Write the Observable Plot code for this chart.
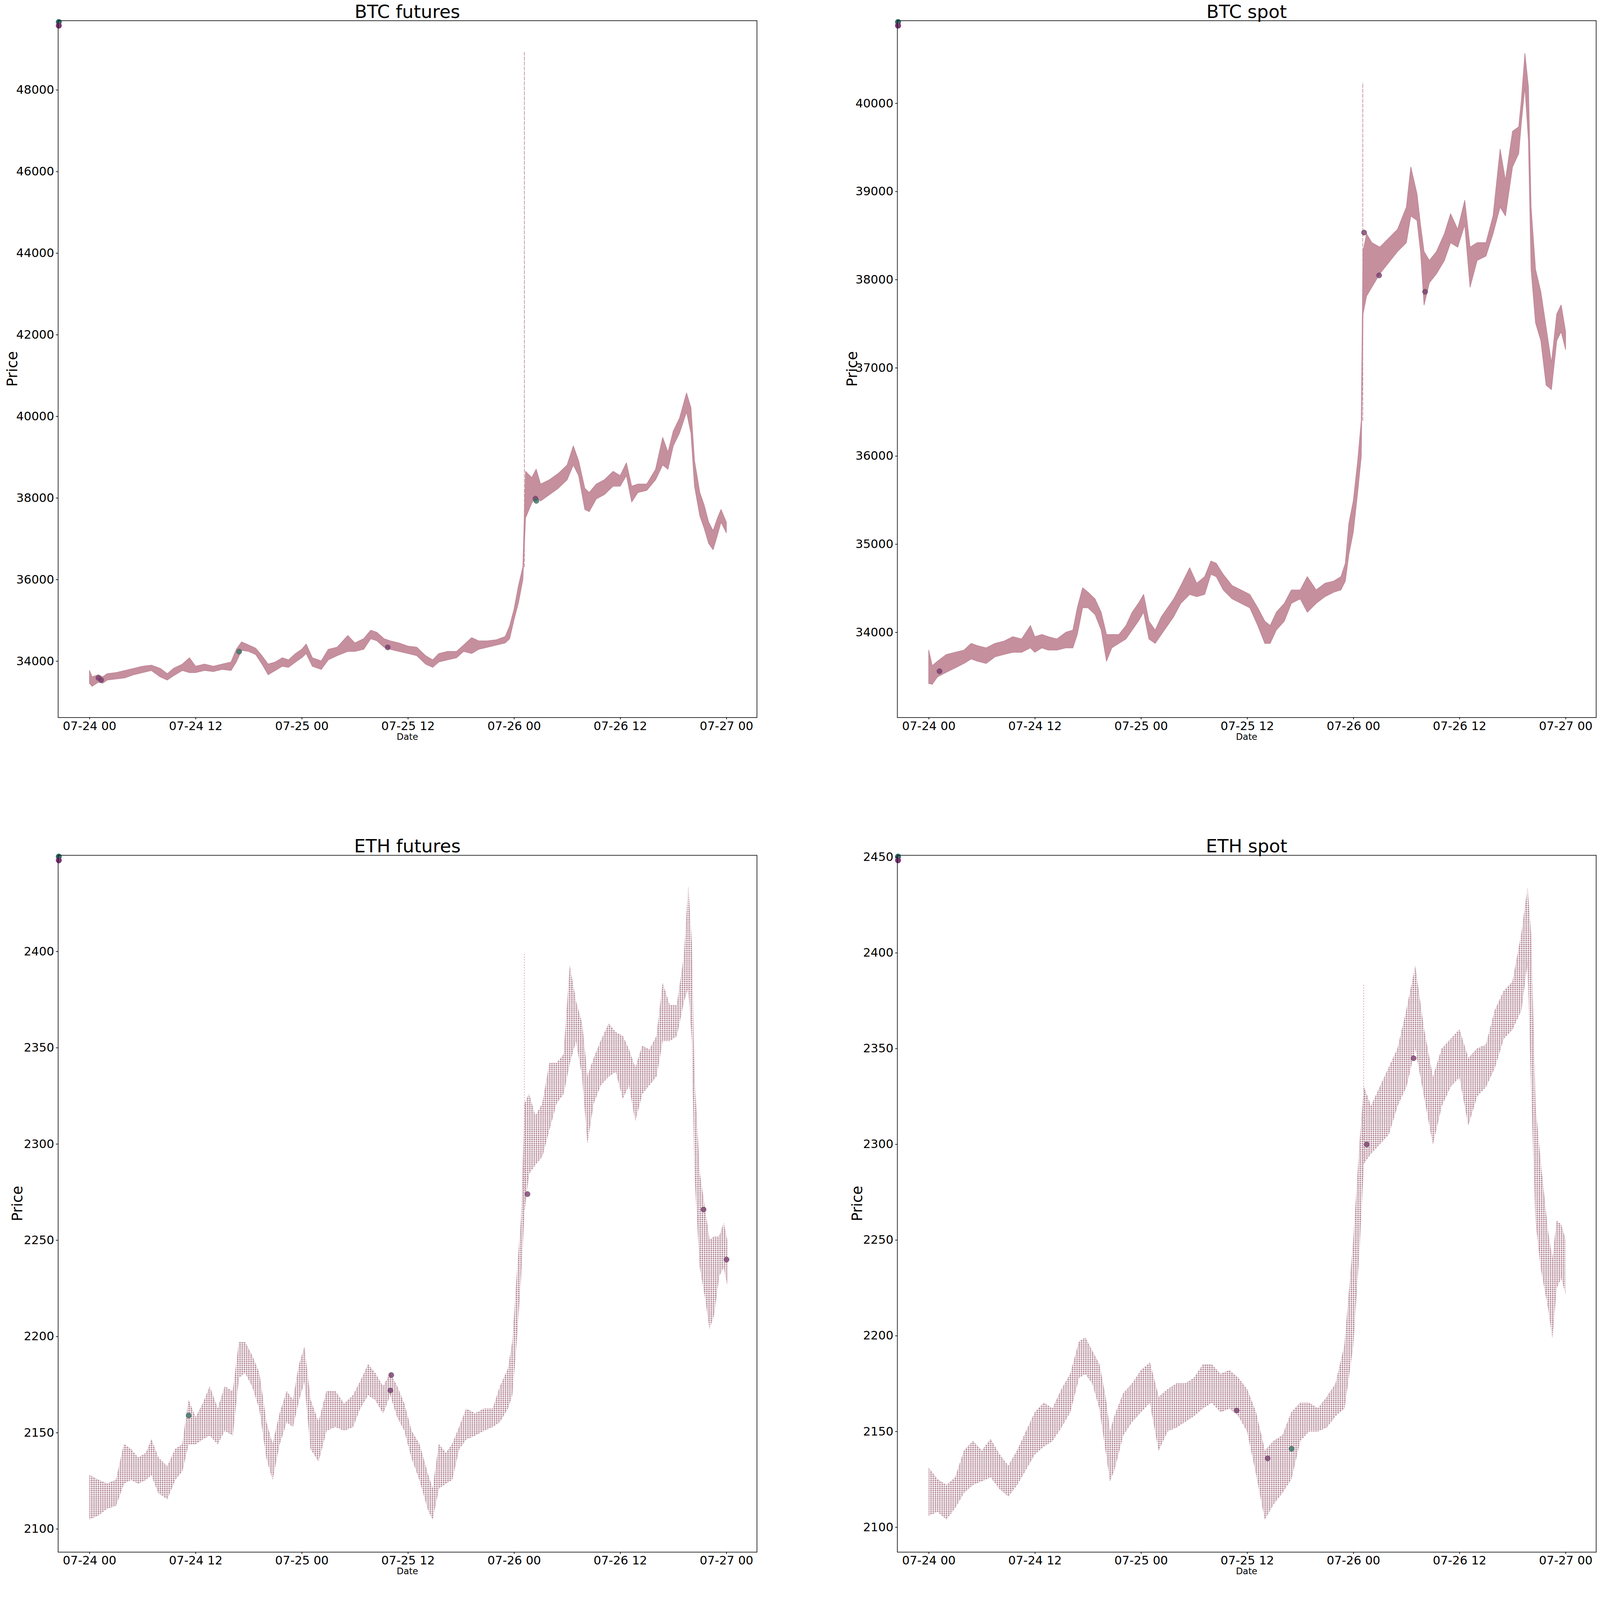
<!DOCTYPE html>
<html><head><meta charset="utf-8">
<script src="https://cdn.jsdelivr.net/npm/d3@7"></script>
<script src="https://cdn.jsdelivr.net/npm/@observablehq/plot@0.6"></script>
<style>
html,body{margin:0;padding:0;background:#fff;overflow:hidden;}
#page{position:absolute;left:0;top:0;width:4831px;height:4770px;background:#fff;overflow:hidden;font-family:"DejaVu Sans",sans-serif;color:#000;transform-origin:0 0;}
.panel{position:absolute;}
.title{position:absolute;font-size:55px;line-height:55px;white-space:nowrap;transform:translateX(-50%);}
.ylab{position:absolute;font-size:44px;line-height:44px;white-space:nowrap;transform:translate(-50%,-50%) rotate(-90deg);}
.xlab{position:absolute;font-size:27px;line-height:27px;white-space:nowrap;transform:translate(-50%,-50%);}
</style></head>
<body><div id="page"></div>
<script>
// ---------- data (hours after 2021-07-24 00:00, price low / high of the trade cloud) ----------
const BASE = Date.UTC(2021, 6, 24, 0, 0);
const titles = ["BTC futures", "BTC spot", "ETH futures", "ETH spot"];

const btcFutT  = [0,0.3,1,1.5,2,3,4,5,6,7,8,8.8,9.5,10.5,11.3,12,13,14,15,16,16.6,17.2,18,18.8,19.5,20.2,21,21.8,22.5,23.3,24,24.5,25.2,26.2,27,28,29.2,30,31,31.8,32.5,33.3,34,35,36,37,38,38.8,39.5,40.5,41.5,42.3,43.2,44,45,46,47,47.5,48,48.5,49,49.3,50,50.5,51,52,53,54,54.7,55.3,56,56.5,57.3,58.2,59.2,60,60.7,61.3,62,63,64,64.8,65.4,66,66.7,67.5,68,68.4,69,69.5,70,70.5,71,71.4,72];
const btcFutHi = [33769,33613,33665,33613,33691,33717,33769,33821,33873,33899,33821,33691,33821,33925,34081,33873,33925,33873,33925,33977,34288,34470,34392,34314,34133,33925,33977,34081,34029,34185,34288,34418,34081,34003,34288,34340,34626,34444,34548,34756,34704,34548,34496,34444,34366,34340,34133,34029,34185,34236,34236,34392,34574,34496,34496,34522,34600,34860,35275,35846,36314,38650,38495,38702,38339,38443,38599,38806,39274,38910,38235,38131,38339,38443,38650,38547,38858,38287,38339,38339,38702,39481,39118,39637,39949,40572,40208,38910,38131,37820,37404,37196,37508,37716,37404];
const btcFutLo = [33457,33380,33483,33457,33535,33561,33587,33665,33717,33769,33613,33535,33639,33769,33717,33717,33769,33743,33795,33769,33977,34262,34236,34159,33925,33665,33769,33873,33847,33977,34081,34185,33873,33795,34029,34133,34236,34236,34288,34548,34496,34340,34288,34236,34185,34133,33925,33847,33977,34029,34081,34236,34185,34288,34340,34392,34444,34548,35015,35431,36002,37508,37872,38027,37923,38079,38235,38443,38806,38547,37716,37664,37975,38079,38287,38287,38547,37898,38131,38183,38443,38806,38702,39274,39585,40105,39585,38287,37560,37248,36885,36729,37093,37404,37145];

const btcSpotT  = [0,0.4,1,2,3,4,4.8,5.5,6.5,7.5,8.5,9.5,10.5,11.5,12,12.8,13.5,14.5,15.5,16.3,16.8,17.4,18,18.8,19.5,20.1,20.7,21.5,22.3,23,23.7,24.3,24.9,25.6,26.3,27,27.7,28.5,29.5,30.3,31.2,31.9,32.5,33.3,34.3,35.3,36.3,37.2,38,38.6,39.3,40.2,41,42,42.8,43.8,44.8,45.8,46.6,47.1,47.5,48,48.5,48.9,49.1,49.5,50.1,51,52,53,54,54.5,55.2,55.6,56,56.6,57.4,58.3,59,59.8,60.6,61.2,62,63,63.8,64.6,65.2,66,66.7,67,67.4,67.8,68.1,68.6,69.2,69.8,70.4,71,71.5,72];
const btcSpotHi = [33798,33621,33672,33748,33773,33798,33874,33849,33823,33874,33899,33950,33924,34076,33950,33975,33950,33924,34000,34025,34278,34505,34455,34379,34227,33975,33975,33975,34076,34227,34328,34429,34126,34025,34177,34278,34379,34530,34732,34556,34631,34808,34783,34657,34530,34480,34429,34278,34126,34076,34227,34328,34480,34480,34631,34480,34556,34581,34631,34783,35237,35490,35944,36399,38318,38520,38419,38368,38469,38570,38823,39277,38974,38621,38318,38217,38318,38520,38747,38570,38899,38368,38419,38419,38722,39479,39126,39681,39732,40035,40565,40186,38823,38116,37863,37459,37055,37611,37712,37409];
const btcSpotLo = [33419,33409,33495,33546,33596,33647,33697,33672,33647,33722,33748,33773,33773,33823,33773,33823,33798,33798,33823,33823,33975,34278,34278,34202,34025,33672,33823,33874,33924,34025,34126,34227,33924,33874,33975,34076,34177,34328,34429,34404,34429,34657,34631,34480,34379,34328,34278,34076,33874,33874,34025,34126,34328,34379,34227,34328,34404,34455,34480,34581,34884,35136,35591,35995,37611,37813,37914,38065,38192,38318,38419,38722,38671,38318,37712,37964,38065,38217,38419,38368,38621,37914,38217,38267,38520,38823,38722,39277,39429,39782,40186,39580,38116,37510,37308,36803,36752,37308,37409,37207];

const ethFutT  = [0,1,2,3,3.9,4.7,5.5,6.4,7,7.8,8.8,9.7,10.5,11.2,12,12.8,13.6,14.5,15.3,16.2,16.9,17.6,18.4,19.2,20,20.7,21.5,22.3,23,23.7,24.3,25,25.9,26.8,27.8,28.8,29.8,30.6,31.5,32.3,33.2,34,34.8,35.6,36.4,37.3,38.3,38.8,39.5,40.3,41,41.8,42.6,43.6,44.6,45.6,46.4,47.3,47.8,48.3,48.8,49.2,49.7,50.4,51.2,52,52.8,53.6,54.3,55,55.7,56.3,57,57.8,58.7,59.5,60.3,61,61.7,62.5,63.3,64.1,64.8,65.6,66.4,67.2,67.7,68.1,68.4,69,69.6,70.1,70.6,71.2,71.7,72.1];
const ethFutHi = [2128,2125.5,2123.5,2125.5,2144,2141.5,2137,2139.5,2146.5,2137,2132.5,2141.5,2144,2167,2158,2165,2174,2162.5,2174,2171.5,2197,2197,2190,2181,2155.5,2144,2160,2171.5,2167,2185.5,2194.5,2167,2155.5,2171.5,2171.5,2165,2169.5,2176.5,2185.5,2181,2174,2181,2174,2165,2151,2144,2128,2121,2144,2139.5,2144,2153,2162.5,2160,2162.5,2162.5,2174,2183,2197,2231.5,2261.5,2321,2326,2314.5,2321,2342,2342,2346.5,2392.5,2374,2362.5,2335,2344.5,2353.5,2362.5,2358,2356,2349,2339.5,2351,2349,2356,2383.5,2372,2372,2397.5,2433.5,2404,2335,2284.5,2266,2250,2252,2252,2259,2250];
const ethFutLo = [2105,2107,2110.5,2112,2123.5,2125.5,2123.5,2125.5,2128,2118.5,2115.5,2125.5,2130,2144,2144,2146.5,2148.5,2144,2151,2148.5,2178.5,2181,2174,2162.5,2137,2125.5,2144,2155.5,2153,2167,2176.5,2141.5,2135,2151,2153,2151,2153,2162.5,2169.5,2167,2160,2169.5,2158,2151,2137,2125.5,2109.5,2105,2121,2123.5,2125.5,2141.5,2146.5,2148.5,2151,2153,2155.5,2162.5,2169.5,2197,2231.5,2266,2284.5,2289,2293.5,2307.5,2321,2326,2342,2353.5,2335,2300.5,2321,2330.5,2335,2337.5,2323.5,2330.5,2312,2326,2330.5,2335,2353.5,2353.5,2356,2374,2381,2353.5,2284.5,2236,2220,2204,2211,2231.5,2236,2227];

const ethSpotT  = [0,1,2,3,4,5,6,7,8,9,10,11,12,13,14,15,16,17,17.7,18.5,19.3,20,20.5,21,22,23,24,25,26,27,28,29,30,31,32,33,34,35,36,37,38,39,40,41,42,43,44,45,46,47,48,48.7,49.2,50,51,52,53,54,55,56,57,58,59,60,61,62,63,64,65,66,67,67.7,68.1,68.6,69.2,70,70.5,71,71.5,72];
const ethSpotHi = [2131,2125,2122,2126,2140,2145,2140,2146,2138,2132,2140,2150,2160,2165,2162,2172,2180,2197,2199,2192,2185,2168,2150,2158,2170,2175,2182,2186,2168,2172,2175,2175,2178,2185,2185,2180,2182,2178,2172,2160,2140,2145,2148,2160,2165,2165,2162,2168,2175,2195,2250,2300,2330,2320,2330,2340,2350,2370,2393,2360,2335,2350,2355,2360,2345,2350,2352,2370,2380,2385,2410,2434,2410,2320,2290,2255,2240,2260,2258,2250];
const ethSpotLo = [2106,2108,2104,2110,2118,2122,2124,2126,2120,2116,2122,2130,2138,2142,2145,2152,2160,2178,2180,2175,2162,2140,2124,2130,2148,2155,2160,2165,2140,2150,2152,2155,2158,2162,2165,2160,2162,2158,2150,2128,2104,2112,2118,2125,2145,2150,2150,2152,2158,2162,2195,2245,2290,2295,2300,2305,2320,2330,2350,2325,2300,2320,2330,2335,2310,2325,2330,2340,2355,2360,2370,2395,2330,2260,2235,2215,2199,2225,2230,2222];

// isolated vertical bursts of trades (hour, low, high)
const spikesT  = [[49.15], [49.05], [49.15], [49.15]];
const spikesLo = [[36300], [36400], [2266], [2290]];
const spikesHi = [[48930], [40237], [2399.5], [2384]];

// larger single trades (hour, price, side)
const bigT     = [[1, 1.3, 16.9, 33.7, 50.4, 50.5], [49.2, 50.9, 56.1, 1.2], [11.2, 34, 34.1, 49.5, 69.4, 72], [54.8, 34.8, 38.3, 41, 49.5]];
const bigPrice = [[33590, 33540, 34236, 34340, 37986, 37930], [38535, 38050, 37864, 33560], [2159, 2172, 2180, 2274, 2266, 2240], [2345, 2161, 2136, 2141, 2300]];
const bigSide  = [["sell","sell","buy","sell","sell","buy"], ["sell","sell","sell","sell"], ["buy","sell","sell","sell","sell","sell"], ["sell","sell","sell","buy","sell"]];

// axis limits and ticks
const yDomains = [[32620, 49700], [33035, 40938], [2088, 2450], [2087, 2451]];
const yTicks = [
  [34000, 36000, 38000, 40000, 42000, 44000, 46000, 48000],
  [34000, 35000, 36000, 37000, 38000, 39000, 40000],
  [2100, 2150, 2200, 2250, 2300, 2350, 2400],
  [2100, 2150, 2200, 2250, 2300, 2350, 2400, 2450]
];
const xDomainHours = [-3.56, 75.44];

// ---------- layout ----------
const FW = 2110, FH = 2104;
const frames = [[175, 62], [2709, 62], [175, 2582], [2709, 2582]];
const yLabelX = [37, 2573, 52, 2588];
const series = [
  [btcFutT, btcFutLo, btcFutHi],
  [btcSpotT, btcSpotLo, btcSpotHi],
  [ethFutT, ethFutLo, ethFutHi],
  [ethSpotT, ethSpotLo, ethSpotHi]
];
const at = h => new Date(BASE + h * 3600000);
const page = document.getElementById("page");
const ML = 175, MT = 62, MR = 12, MB = 60;
const sideColor = {buy: "#2f7566", sell: "#7c3a6f"};

function fit() {
  const s = Math.min(window.innerWidth / 4831, window.innerHeight / 4770);
  page.style.transform = `scale(${s})`;
}
fit();
window.addEventListener("resize", fit);

series.forEach(([T, LO, HI], k) => {
  const rows = T.map((t, i) => ({date: at(t), lo: LO[i], hi: HI[i]}));
  const spikes = spikesT[k].map((t, i) => ({date: at(t), lo: spikesLo[k][i], hi: spikesHi[k][i]}));
  const big = bigT[k].map((t, i) => ({date: at(t), price: bigPrice[k][i], side: bigSide[k][i]}));
  const xDom = [at(xDomainHours[0]), at(xDomainHours[1])];
  const yDom = yDomains[k];
  const isEth = k >= 2;
  const pid = "dots" + k;
  const corner = [{date: xDom[0], price: yDom[1]}];
  const svg = Plot.plot({
    width: FW + ML + MR, height: FH + MT + MB,
    marginLeft: ML, marginTop: MT, marginRight: MR, marginBottom: MB,
    style: {fontFamily: "DejaVu Sans", fontSize: "36px", color: "#000", background: "transparent", maxWidth: "none"},
    x: {type: "utc", domain: xDom},
    y: {domain: yDom},
    marks: [
      Plot.areaY(rows, {x: "date", y1: "lo", y2: "hi", curve: "linear",
        fill: isEth ? `url(#${pid})` : "#c58f9e",
        stroke: isEth ? "#d7aab8" : "#c08898", strokeWidth: isEth ? 0.8 : 2, strokeOpacity: isEth ? 0.6 : 1}),
      Plot.ruleX(spikes, {x: "date", y1: "lo", y2: "hi", stroke: "#c08898", strokeWidth: 2,
        strokeDasharray: isEth ? "3,5" : "12,3"}),
      Plot.dot(big, {x: "date", y: "price", r: 8, fill: d => sideColor[d.side], fillOpacity: 0.8, stroke: "#555", strokeWidth: 1}),
      Plot.dot(corner, {x: "date", y: "price", r: 9, fill: "#2e6f69", dx: 2, dy: 4}),
      Plot.dot(corner, {x: "date", y: "price", r: 9, fill: "#7b3673", dx: 2, dy: 15}),
      Plot.frame({stroke: "#111", strokeWidth: 2}),
      Plot.axisX({ticks: d3.utcHour.every(12), tickFormat: d3.utcFormat("%m-%d %H"), tickSize: 6, tickPadding: 6, strokeWidth: 2, label: null}),
      Plot.axisY({ticks: yTicks[k], tickFormat: d => String(d), tickSize: 6, tickPadding: 6, strokeWidth: 2, label: null})
    ]
  });
  // dotted texture for the ETH trade clouds
  const NS = "http://www.w3.org/2000/svg";
  const defs = document.createElementNS(NS, "defs");
  const pat = document.createElementNS(NS, "pattern");
  pat.setAttribute("id", pid); pat.setAttribute("patternUnits", "userSpaceOnUse");
  pat.setAttribute("width", "6.68"); pat.setAttribute("height", "6.2");
  const c = document.createElementNS(NS, "circle");
  c.setAttribute("cx", "3.3"); c.setAttribute("cy", "3.1"); c.setAttribute("r", "2.2");
  c.setAttribute("fill", "#b87a8e"); c.setAttribute("stroke", "#9a8a90"); c.setAttribute("stroke-width", "0.5");
  pat.appendChild(c); defs.appendChild(pat); svg.insertBefore(defs, svg.firstChild);

  const [fx, fy] = frames[k];
  const wrap = document.createElement("div");
  wrap.className = "panel";
  wrap.style.left = (fx - ML) + "px"; wrap.style.top = (fy - MT) + "px";
  wrap.appendChild(svg);
  page.appendChild(wrap);

  const t = document.createElement("div");
  t.className = "title"; t.textContent = titles[k];
  t.style.left = (fx + FW / 2) + "px"; t.style.top = (fy - 54) + "px";
  page.appendChild(t);

  const yl = document.createElement("div");
  yl.className = "ylab"; yl.textContent = "Price";
  yl.style.left = yLabelX[k] + "px"; yl.style.top = (fy + FH / 2) + "px";
  page.appendChild(yl);

  const xl = document.createElement("div");
  xl.className = "xlab"; xl.textContent = "Date";
  xl.style.left = (fx + FW / 2) + "px"; xl.style.top = (fy + FH + 58) + "px";
  page.appendChild(xl);
});
</script>
</body></html>
